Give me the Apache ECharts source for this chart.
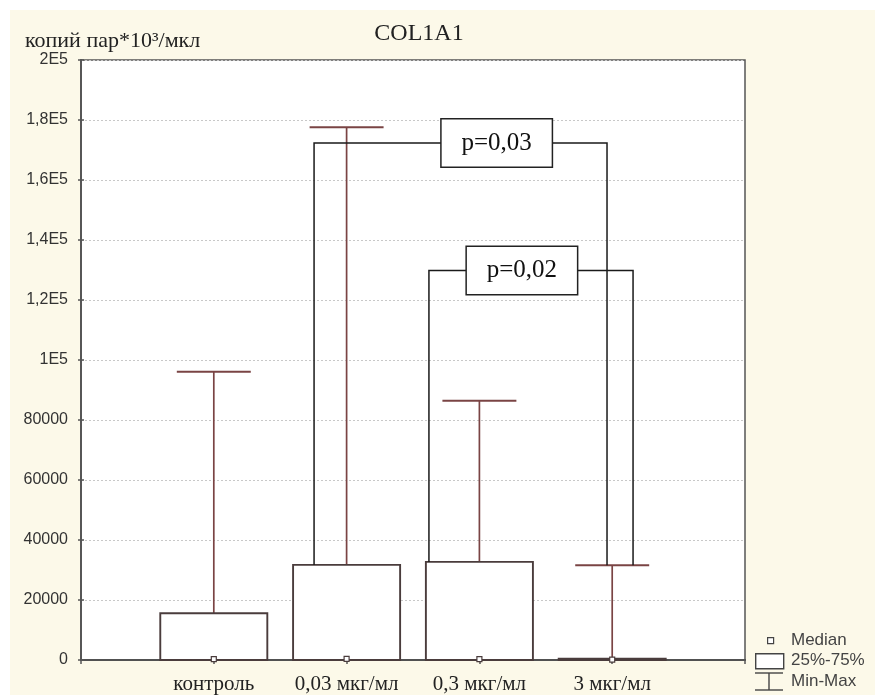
<!DOCTYPE html>
<html>
<head>
<meta charset="utf-8">
<script src="https://cdn.jsdelivr.net/npm/echarts@6/dist/echarts.min.js"></script>
<style>
html,body{margin:0;padding:0;background:#ffffff;}
#chart{position:absolute;left:10px;top:10px;width:865px;height:685px;}
</style>
</head>
<body>
<div id="chart"></div>
<script>
// ---- data ----
const categories = ['контроль', '0,03 мкг/мл', '0,3 мкг/мл', '3 мкг/мл'];
const minValues    = [0, 0, 0, 0];
const q1Values     = [0, 0, 0, 0];
const medianValues = [300, 400, 300, 150];
const q3Values     = [15600, 31700, 32700, 400];
const maxValues    = [96100, 177600, 86400, 31600];

const yTickValues = [0, 20000, 40000, 60000, 80000, 100000, 120000, 140000, 160000, 180000, 200000];
const yTickLabels = ['0', '20000', '40000', '60000', '80000', '1E5', '1,2E5', '1,4E5', '1,6E5', '1,8E5', '2E5'];

// significance brackets
const bracketLabels = ['p=0,03', 'p=0,02'];
const bracketXLeft  = [1.755, 2.62];
const bracketXRight = [3.961, 4.157];
const bracketLevel  = [172300, 129800];
const bracketLeftBottom  = [31700, 32700];
const bracketRightBottom = [31600, 31600];
const bracketLabelX = [3.13, 3.32];

const legendLabels = ['Median', '25%-75%', 'Min-Max'];

// ---- build ----
const boxData = categories.map((c, i) => [i + 1, minValues[i], q1Values[i], medianValues[i], q3Values[i], maxValues[i]]);
const bracketData = bracketLabels.map((l, i) => [bracketXLeft[i], bracketXRight[i], bracketLevel[i], bracketLeftBottom[i], bracketRightBottom[i], bracketLabelX[i], i]);

const BOX_W = 0.806, CAP_W = 0.557;
const boxColor = '#4a3c3c';
const whiskerColor = '#7a4444';
const serif = '"Liberation Serif", "Times New Roman", serif';
const sans = '"Liberation Sans", Arial, sans-serif';

function renderBox(params, api) {
  const x = api.value(0);
  const vMin = api.value(1), vQ1 = api.value(2), vMed = api.value(3), vQ3 = api.value(4), vMax = api.value(5);
  const pMin = api.coord([x, vMin]);
  const pQ1 = api.coord([x, vQ1]);
  const pMed = api.coord([x, vMed]);
  const pQ3 = api.coord([x, vQ3]);
  const pMax = api.coord([x, vMax]);
  const hb = api.size([BOX_W, 0])[0] / 2;
  const hc = api.size([CAP_W, 0])[0] / 2;
  const cx = pQ1[0];
  return {
    type: 'group',
    children: [
      {type: 'line', shape: {x1: cx, y1: pQ3[1], x2: cx, y2: pMax[1]}, style: {stroke: whiskerColor, lineWidth: 1.7}},
      {type: 'line', shape: {x1: cx - hc, y1: pMax[1], x2: cx + hc, y2: pMax[1]}, style: {stroke: whiskerColor, lineWidth: 2}},
      {type: 'line', shape: {x1: cx, y1: pQ1[1], x2: cx, y2: pMin[1]}, style: {stroke: whiskerColor, lineWidth: 1.7}},
      {type: 'rect', shape: {x: cx - hb, y: pQ3[1], width: 2 * hb, height: Math.max(pQ1[1] - pQ3[1], 0.5)},
        style: {fill: '#ffffff', stroke: boxColor, lineWidth: 1.9}},
      {type: 'rect', shape: {x: cx - 2.5, y: pMed[1] - 2.5, width: 5, height: 5},
        style: {fill: '#ffffff', stroke: boxColor, lineWidth: 1.2}}
    ]
  };
}

function renderBracket(params, api) {
  const xl = api.value(0), xr = api.value(1), lvl = api.value(2), lb = api.value(3), rb = api.value(4), lx = api.value(5);
  const idx = api.value(6);
  const a = api.coord([xl, lb]);
  const b = api.coord([xl, lvl]);
  const c = api.coord([xr, lvl]);
  const d = api.coord([xr, rb]);
  const t = api.coord([lx, lvl]);
  return {
    type: 'group',
    children: [
      {type: 'polyline', shape: {points: [a, b, c, d]}, style: {stroke: '#1a1a1a', lineWidth: 1.5, fill: null}},
      {type: 'text', x: t[0], y: t[1], z2: 10,
        style: {text: bracketLabels[idx], fill: '#111', font: '25px ' + serif,
          align: 'center', verticalAlign: 'middle', backgroundColor: '#ffffff', borderColor: '#222', borderWidth: 1.5,
          padding: [11, 14, 11, 14], width: 82}}
    ]
  };
}

const chart = echarts.init(document.getElementById('chart'), null, {renderer: 'canvas'});

chart.setOption({
  backgroundColor: '#fcf9e9',
  animation: false,
  title: {
    text: 'COL1A1', left: 404, top: 7, textAlign: 'center',
    textStyle: {fontFamily: serif, fontSize: 24, fontWeight: 'normal', color: '#222'}
  },
  grid: {left: 71, top: 50, right: 130, bottom: 35, show: true, backgroundColor: '#ffffff', borderColor: '#555', borderWidth: 1.5},
  xAxis: [
    {
      type: 'value', min: 0, max: 5, interval: 1, position: 'bottom',
      axisLine: {show: true, lineStyle: {color: '#444', width: 2}},
      axisTick: {show: false},
      splitLine: {show: false},
      axisLabel: {
        formatter: v => (v >= 1 && v <= categories.length) ? categories[v - 1] : '',
        fontFamily: serif, fontSize: 21, color: '#222', margin: 14
      }
    },
    {
      type: 'value', min: 0, max: 5, interval: 1, position: 'top',
      axisLine: {show: true, lineStyle: {color: '#555', width: 1.5}},
      axisTick: {show: true, inside: true, length: 4, lineStyle: {color: '#555', width: 1.5}},
      axisLabel: {show: false},
      splitLine: {show: false}
    }
  ],
  yAxis: [
    {
      type: 'value', min: 0, max: 200000, interval: 20000, position: 'left',
      name: 'копий пар*10³/мкл', nameLocation: 'end', nameGap: 6,
      nameTextStyle: {fontFamily: serif, fontSize: 22, color: '#222', align: 'left', padding: [0, 0, 0, -56]},
      axisLine: {show: true, lineStyle: {color: '#555', width: 1.5}},
      axisTick: {show: true, inside: true, length: 3, lineStyle: {color: '#555', width: 1.5}},
      splitLine: {show: true, lineStyle: {color: '#c8c8c8', type: [2, 2], width: 1}},
      axisLabel: {
        formatter: v => { const i = yTickValues.indexOf(v); return i >= 0 ? yTickLabels[i] : ''; },
        fontFamily: sans, fontSize: 16, color: '#333', margin: 13
      }
    },
    {
      type: 'value', min: 0, max: 200000, interval: 20000, position: 'right',
      axisLine: {show: true, lineStyle: {color: '#555', width: 1.5}},
      axisTick: {show: true, inside: true, length: 3, lineStyle: {color: '#555', width: 1.5}},
      axisLabel: {show: false},
      splitLine: {show: false}
    }
  ],
  series: [
    {
      type: 'custom', name: 'box', renderItem: renderBox, data: boxData,
      encode: {x: 0, y: [1, 2, 3, 4, 5]}, xAxisIndex: 0, yAxisIndex: 0, z: 2, clip: false
    },
    {
      type: 'custom', name: 'brackets', renderItem: renderBracket, data: bracketData,
      encode: {x: [0, 1, 5], y: [2, 3, 4]}, xAxisIndex: 0, yAxisIndex: 0, z: 3, clip: false
    }
  ],
  graphic: [
    {type: 'rect', left: 757, top: 627, shape: {width: 6, height: 6}, style: {fill: '#fff', stroke: '#444', lineWidth: 1.2}},
    {type: 'text', left: 781, top: 622, style: {text: legendLabels[0], font: '17px ' + sans, fill: '#444'}},
    {type: 'rect', left: 745, top: 643, shape: {width: 28, height: 15}, style: {fill: '#fff', stroke: '#444', lineWidth: 1.4}},
    {type: 'text', left: 781, top: 642, style: {text: legendLabels[1], font: '17px ' + sans, fill: '#444'}},
    {type: 'line', shape: {x1: 745, y1: 663, x2: 773, y2: 663}, style: {stroke: '#444', lineWidth: 1.4}},
    {type: 'line', shape: {x1: 759, y1: 663, x2: 759, y2: 680}, style: {stroke: '#444', lineWidth: 1.4}},
    {type: 'line', shape: {x1: 745, y1: 680, x2: 773, y2: 680}, style: {stroke: '#444', lineWidth: 1.4}},
    {type: 'text', left: 781, top: 663, style: {text: legendLabels[2], font: '17px ' + sans, fill: '#444'}}
  ]
});
</script>
</body>
</html>
